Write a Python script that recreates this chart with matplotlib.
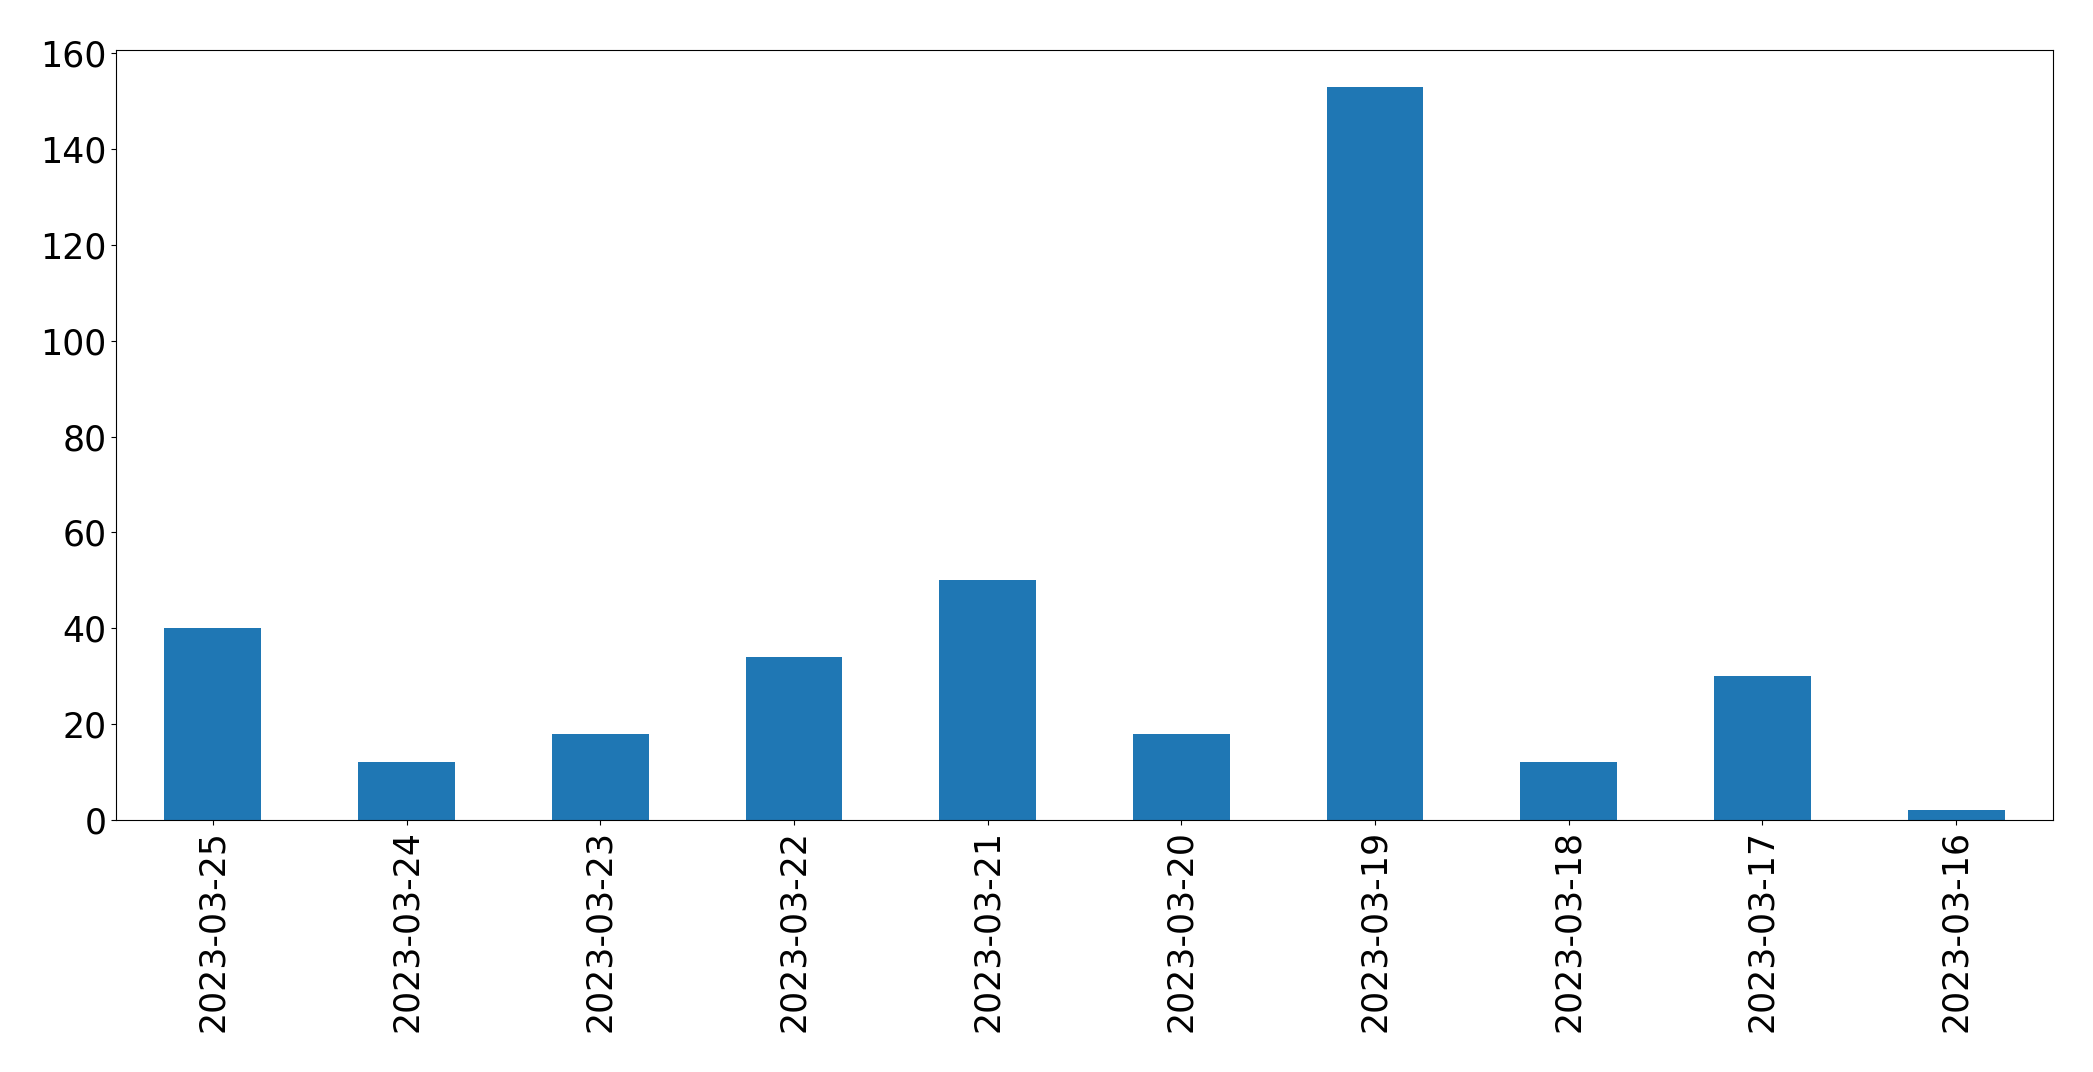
import numpy as np
import matplotlib
matplotlib.use('Agg')
import matplotlib.pyplot as plt

dates = ['2023-03-25', '2023-03-24', '2023-03-23', '2023-03-22', '2023-03-21',
         '2023-03-20', '2023-03-19', '2023-03-18', '2023-03-17', '2023-03-16']
counts = [40, 12, 18, 34, 50, 18, 153, 12, 30, 2]

plt.rcParams['font.size'] = 25

fig, ax = plt.subplots(figsize=(20.93, 10.72), dpi=100)
fig.subplots_adjust(left=116/2093, right=2053/2093, top=1-50/1072, bottom=1-820/1072)

x = np.arange(len(dates))
ax.bar(x, counts, width=0.5, color='#1f77b4')
ax.set_xticks(x)
ax.set_xticklabels(dates, rotation=90)
ax.set_xlim(-0.5, len(dates) - 0.5)
ax.set_ylim(0, max(counts) * 1.05)

fig.savefig('out.png')
